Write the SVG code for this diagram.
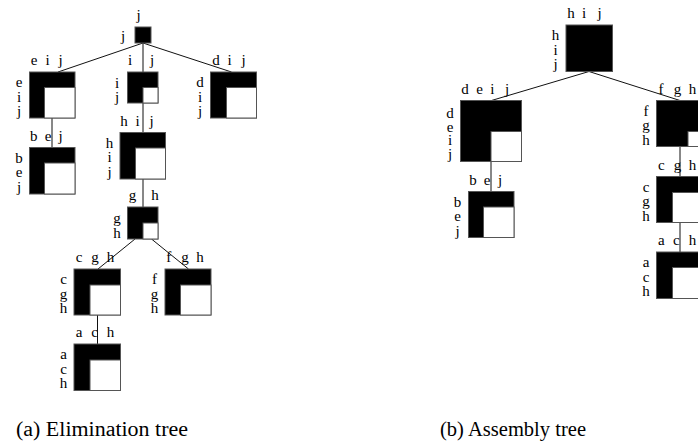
<svg xmlns="http://www.w3.org/2000/svg" width="698" height="447" viewBox="0 0 698 447">
<style>
.o{fill:#000;stroke:#555;stroke-width:1}
.i{fill:#fff;stroke:#555;stroke-width:1}
.lb{font-size:15px;text-anchor:middle;fill:#000}
.cap{font-size:20px;fill:#000}
.e{stroke:#111;stroke-width:1;fill:none}
</style>
<rect width="698" height="447" fill="#fff"/>
<g id="connectors">
<line class="e" x1="143" y1="43" x2="58" y2="72"/>
<line class="e" x1="143" y1="43" x2="143" y2="72"/>
<line class="e" x1="143" y1="43" x2="231.5" y2="72"/>
<line class="e" x1="52" y1="118" x2="52" y2="147.5"/>
<line class="e" x1="143" y1="103" x2="143" y2="132.5"/>
<line class="e" x1="143" y1="179" x2="143" y2="207"/>
<line class="e" x1="135" y1="239" x2="98" y2="269"/>
<line class="e" x1="151.5" y1="239" x2="188.5" y2="269"/>
<line class="e" x1="97.5" y1="315" x2="97.5" y2="344"/>
<line class="e" x1="589" y1="71.5" x2="491.5" y2="100.5"/>
<line class="e" x1="589" y1="71.5" x2="680" y2="100.5"/>
<line class="e" x1="491" y1="161.5" x2="491" y2="191.5"/>
<line class="e" x1="680" y1="146.5" x2="680" y2="176.5"/>
<line class="e" x1="680" y1="222.5" x2="680" y2="252"/>
</g>
<g font-family="'Liberation Serif', 'DejaVu Serif', serif">
<g id="a-j">
<rect class="o" x="135" y="27" width="16" height="16"/>
<text class="lb" x="138.5" y="20">j</text>
<text class="lb" x="123" y="41">j</text>
</g>
<g id="a-eij">
<rect class="o" x="29.5" y="72" width="45.5" height="46"/>
<rect class="i" x="44.5" y="87.5" width="30.5" height="30.5"/>
<text class="lb" x="34 47.7 60.5" y="65">eij</text>
<text class="lb" x="19 19 19" y="87 101.5 116">eij</text>
</g>
<g id="a-ij">
<rect class="o" x="127.5" y="72" width="30.5" height="31"/>
<rect class="i" x="143" y="87.5" width="15" height="15.5"/>
<text class="lb" x="130 152" y="65">ij</text>
<text class="lb" x="117 117" y="88 102">ij</text>
</g>
<g id="a-dij">
<rect class="o" x="210.5" y="72" width="46" height="46"/>
<rect class="i" x="226.5" y="87.5" width="30" height="30.5"/>
<text class="lb" x="216 229.5 243.5" y="65">dij</text>
<text class="lb" x="200 200 200" y="87 101.5 116">dij</text>
</g>
<g id="a-bej">
<rect class="o" x="29.5" y="147.5" width="45.5" height="46.5"/>
<rect class="i" x="44.5" y="163" width="30.5" height="31"/>
<text class="lb" x="33.7 48 60.5" y="141">bej</text>
<text class="lb" x="19 19 19" y="162.5 177 191.5">bej</text>
</g>
<g id="a-hij">
<rect class="o" x="120" y="132.5" width="45.5" height="46.5"/>
<rect class="i" x="135.5" y="148" width="30" height="31"/>
<text class="lb" x="124 137.5 151.5" y="126">hij</text>
<text class="lb" x="109.5 109.5 109.5" y="147.5 162 176.5">hij</text>
</g>
<g id="a-gh">
<rect class="o" x="127.5" y="207" width="30.5" height="32"/>
<rect class="i" x="143" y="223" width="15" height="16"/>
<text class="lb" x="132.5 155" y="200">gh</text>
<text class="lb" x="117 117" y="223 238">gh</text>
</g>
<g id="a-cgh">
<rect class="o" x="74" y="269" width="46.5" height="46"/>
<rect class="i" x="90" y="285" width="30.5" height="30"/>
<text class="lb" x="79 95 110.5" y="262">cgh</text>
<text class="lb" x="63.5 63.5 63.5" y="284 298.5 313">cgh</text>
</g>
<g id="a-fgh">
<rect class="o" x="165" y="269" width="46" height="46"/>
<rect class="i" x="180.5" y="285" width="30.5" height="30"/>
<text class="lb" x="168.7 185 200" y="262">fgh</text>
<text class="lb" x="154.5 154.5 154.5" y="284 298.5 313">fgh</text>
</g>
<g id="a-ach">
<rect class="o" x="74" y="344" width="46.5" height="46.5"/>
<rect class="i" x="90" y="360" width="30.5" height="30.5"/>
<text class="lb" x="79 94.5 110.5" y="337">ach</text>
<text class="lb" x="63.5 63.5 63.5" y="359 373.5 388">ach</text>
</g>
<g id="b-hij">
<rect class="o" x="566" y="25" width="46.5" height="46.5"/>
<text class="lb" x="571 584 599.5" y="18">hij</text>
<text class="lb" x="555.5 555.5 555.5" y="40 54.5 69">hij</text>
</g>
<g id="b-deij">
<rect class="o" x="460.5" y="100.5" width="61" height="61"/>
<rect class="i" x="491" y="131.5" width="30.5" height="30"/>
<text class="lb" x="465 479.7 492.3 507" y="94">deij</text>
<text class="lb" x="450 450 450 450" y="118 131.5 145 158.5">deij</text>
</g>
<g id="b-fgh">
<rect class="o" x="656.5" y="100.5" width="46" height="46"/>
<rect class="i" x="688" y="131.5" width="14.5" height="15"/>
<text class="lb" x="661 677.5 692.5" y="94">fgh</text>
<text class="lb" x="646 646 646" y="115.5 130 144.5">fgh</text>
</g>
<g id="b-bej">
<rect class="o" x="468.5" y="191.5" width="45.5" height="46"/>
<rect class="i" x="483.5" y="207" width="30.5" height="30.5"/>
<text class="lb" x="473 487 500" y="185">bej</text>
<text class="lb" x="457.5 457.5 457.5" y="206.5 221 235.5">bej</text>
</g>
<g id="b-cgh">
<rect class="o" x="656.5" y="176.5" width="46" height="46"/>
<rect class="i" x="672.5" y="192.5" width="30" height="30"/>
<text class="lb" x="661.3 677.5 692.5" y="170">cgh</text>
<text class="lb" x="646 646 646" y="191.5 206 220.5">cgh</text>
</g>
<g id="b-ach">
<rect class="o" x="656.5" y="252" width="46" height="46.5"/>
<rect class="i" x="672.5" y="267.5" width="30" height="31"/>
<text class="lb" x="661.3 676.3 692.5" y="245">ach</text>
<text class="lb" x="646 646 646" y="267 281.5 296">ach</text>
</g>
<text class="cap" x="16" y="436" textLength="172" lengthAdjust="spacingAndGlyphs">(a) Elimination tree</text>
<text class="cap" x="440" y="436" textLength="146" lengthAdjust="spacingAndGlyphs">(b) Assembly tree</text>
</g>
</svg>
